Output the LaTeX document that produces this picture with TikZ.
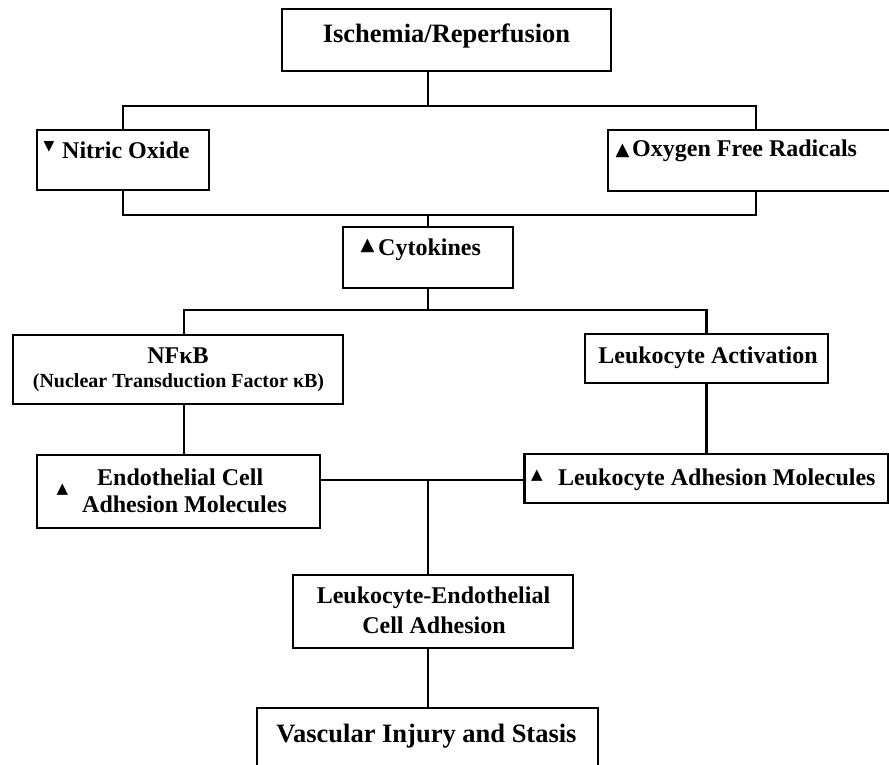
\documentclass[tikz,border=0pt]{standalone}
\usepackage{fontspec}
\setmainfont{Liberation Serif}
\newfontfamily\symfont{DejaVu Sans}
\newcommand\triup[1]{{\symfont\fontsize{#1}{#1}\selectfont ▲}}
\newcommand\tridown[1]{{\symfont\fontsize{#1}{#1}\selectfont ▼}}
\tikzset{
  box/.style={draw, line width=2.6pt, rectangle, inner sep=0pt},
  conn/.style={line width=2.5pt},
  lbl/.style={anchor=base, inner sep=0pt, font=\bfseries\fontsize{24}{28}\selectfont},
  big/.style={font=\bfseries\fontsize{26.5}{30}\selectfont},
  small/.style={font=\bfseries\fontsize{20}{24}\selectfont},
  sym/.style={inner sep=0pt, anchor=center},
}
\begin{document}
\begin{tikzpicture}[x=1pt,y=-1pt]
\useasboundingbox[fill=white] (0,0) rectangle (889,765);
% boxes
\node[box, minimum width=329pt, minimum height=62pt] (isch) at (446.5,40) {};
\node[box, minimum width=172pt, minimum height=60pt] (no) at (123,160) {};
\node[box, minimum width=296pt, minimum height=61pt] (ofr) at (756,160.5) {};
\node[box, minimum width=170pt, minimum height=61pt] (cyt) at (428,257.5) {};
\node[box, minimum width=330pt, minimum height=69pt] (nfkb) at (178,369.5) {};
\node[box, minimum width=243pt, minimum height=49pt] (lact) at (706.5,358.5) {};
\node[box, minimum width=283pt, minimum height=73pt] (eca) at (178.5,491.5) {};
\node[box, minimum width=364pt, minimum height=49pt] (lam) at (706.5,478.5) {};
\node[box, minimum width=280pt, minimum height=73pt] (lec) at (433,611.5) {};
\node[box, minimum width=341pt, minimum height=72pt] (vis) at (427.5,744) {};
% junctions
\coordinate (j1) at (428,106);
\coordinate (j2) at (428,215);
\coordinate (j3) at (428,310);
\coordinate (j4) at (428,480);
\coordinate (lx) at (184,0);
% connectors
\draw[conn] (isch.south -| j1) -- (j1);
\draw[conn] (no.north) |- (j1) -| (ofr.north);
\draw[conn] (no.south) |- (j2) -| (ofr.south);
\draw[conn] (j2) -- (cyt.north);
\draw[conn] (cyt.south) -- (j3);
\draw[conn] (nfkb.north -| lx) |- (j3) -| (lact.north);
\draw[conn] (nfkb.south -| lx) -- (eca.north -| lx);
\draw[conn] (lact.south) -- (lam.north);
\draw[conn] (eca.east |- j4) -- (lam.west |- j4);
\draw[conn] (j4) -- (lec.north -| j4);
\draw[conn] (lec.south -| j4) -- (vis.north -| j4);
% texts
\node[lbl, big] (ischT) at (446.5,43) {Ischemia/Reperfusion};
\node[sym] (noS) at (49,146.5) {\tridown{14}};
\node[lbl, anchor=base west] (noT) at (62,158) {Nitric Oxide};
\node[sym] (ofrS) at (622.5,151) {\triup{18}};
\node[lbl, anchor=base west] (ofrT) at (632,157) {Oxygen Free Radicals};
\node[sym] (cytS) at (367.5,246) {\triup{18}};
\node[lbl, anchor=base west] (cytT) at (378,255) {Cytokines};
\node[lbl] (nfkbT) at (178,363) {NFκB};
\node[lbl, small] (nfkbT2) at (178.5,387) {(Nuclear Transduction Factor κB)};
\node[lbl] (lactT) at (708,363) {Leukocyte Activation};
\node[sym] (ecaS) at (62.5,489.5) {\triup{15}};
\node[lbl, anchor=base west] (ecaT1) at (97,485) {Endothelial Cell};
\node[lbl, anchor=base west] (ecaT2) at (82,512) {Adhesion Molecules};
\node[sym] (lamS) at (537,475.5) {\triup{15}};
\node[lbl, anchor=base west] (lamT) at (558,485) {Leukocyte Adhesion Molecules};
\node[lbl] (lecT1) at (433.5,603) {Leukocyte-Endothelial};
\node[lbl] (lecT2) at (434,633) {Cell Adhesion};
\node[lbl, big] (visT) at (426.5,742) {Vascular Injury and Stasis};
\end{tikzpicture}
\end{document}
